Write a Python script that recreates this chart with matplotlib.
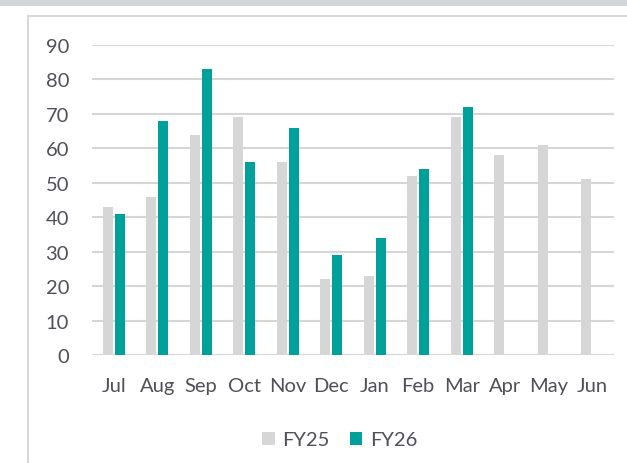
import matplotlib
matplotlib.use("Agg")
import matplotlib.pyplot as plt
from matplotlib.patches import Rectangle
import numpy as np

months = ["Jul", "Aug", "Sep", "Oct", "Nov", "Dec", "Jan", "Feb", "Mar", "Apr", "May", "Jun"]
fy25 = [43, 46, 64, 69, 56, 22, 23, 52, 69, 58, 61, 51]
fy26 = [41, 68, 83, 56, 66, 29, 34, 54, 72]
yticks = [0, 10, 20, 30, 40, 50, 60, 70, 80, 90]

GREY = "#d6d6d6"
TEAL = "#00a19b"
TEXT = "#4f5058"
FS = 14.5

plt.rcParams["font.family"] = ["Lato", "DejaVu Sans"]

W, H = 627, 464
fig = plt.figure(figsize=(W / 100, H / 100), dpi=100)
fig.patch.set_facecolor("white")

# top band and chart frame
fig.add_artist(Rectangle((0, 1 - 7 / H), 1, 7 / H, transform=fig.transFigure,
                         facecolor="#d3d7db", edgecolor="none", zorder=0))
fig.add_artist(Rectangle((27.5 / W, -0.05), 1.1, 1 - 17 / H + 0.05, transform=fig.transFigure,
                         facecolor="white", edgecolor="#d4d4d4", linewidth=1.3, zorder=0))

left, right = 92 / W, 614 / W
bottom, top = 1 - 356 / H, 1 - 46 / H
ax = fig.add_axes([left, bottom, right - left, top - bottom])
ax.set_facecolor("none")

x = np.arange(len(months))
bw = 0.235
off = 0.14
ax.bar(x[:len(fy25)] - off, fy25, width=bw, color=GREY, label="FY25", zorder=2)
ax.bar(x[:len(fy26)] + off, fy26, width=bw, color=TEAL, label="FY26", zorder=2)

ax.set_xlim(-0.5, len(months) - 0.5)
ax.set_ylim(0, 90)
ax.set_yticks(yticks)
ax.set_xticks(x)
ax.set_xticklabels(months)
ax.grid(axis="y", color="#d6d6d6", linewidth=1.5, zorder=1)
ax.set_axisbelow(True)
for s in ax.spines.values():
    s.set_visible(False)
ax.tick_params(axis="both", length=0, colors=TEXT, labelsize=FS)
ax.tick_params(axis="y", pad=16.5)
ax.tick_params(axis="x", pad=16)

leg = fig.legend(loc="center", bbox_to_anchor=(340 / W, 1 - 441 / H), ncol=2, frameon=False,
                 fontsize=FS, handlelength=0.6, handleheight=0.6, handletextpad=0.4,
                 columnspacing=1.0)
for t in leg.get_texts():
    t.set_color(TEXT)

fig.savefig("out.png", dpi=100)
